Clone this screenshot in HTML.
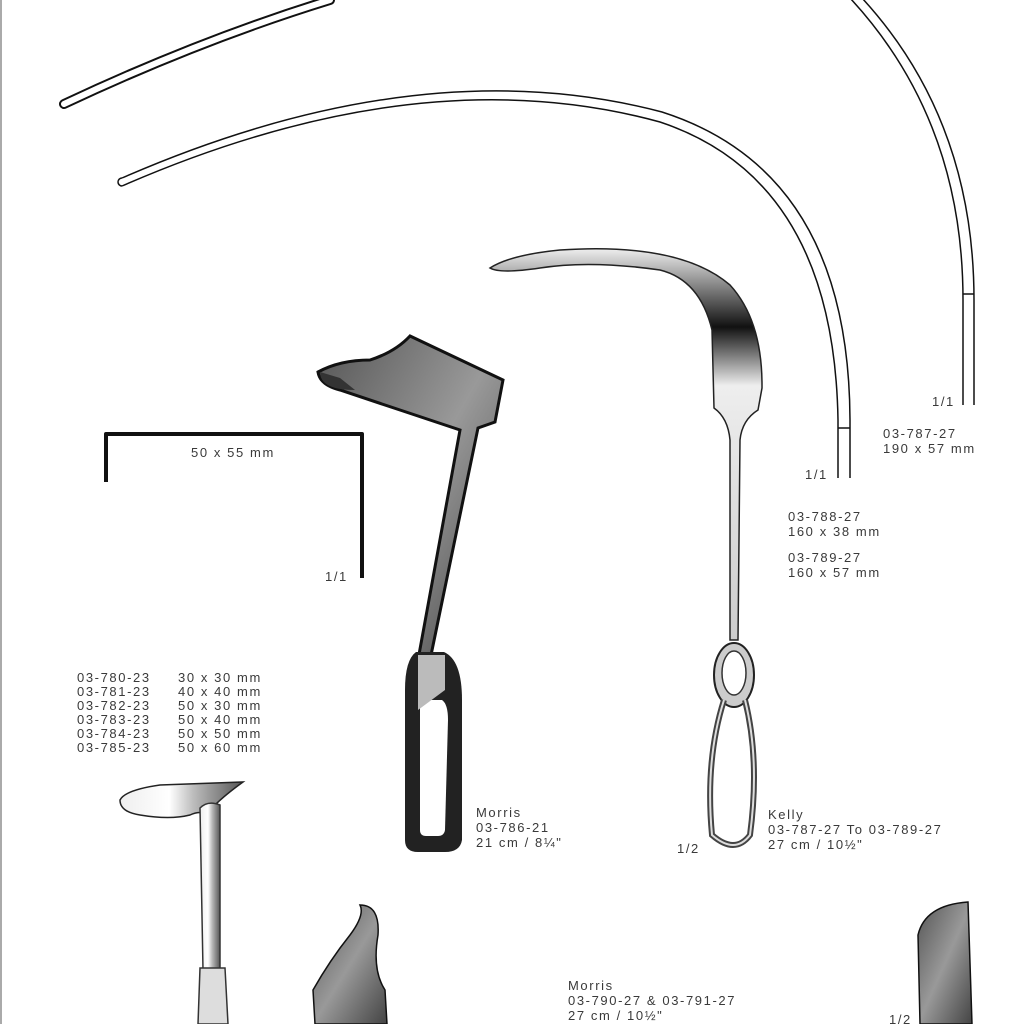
<!DOCTYPE html>
<html><head><meta charset="utf-8"><style>
html,body{margin:0;padding:0;background:#fff}
svg{display:block}
text{font-family:"Liberation Sans",sans-serif;font-size:13px;fill:#3a3a3a;letter-spacing:1.6px}
</style></head><body>
<svg width="1024" height="1024" viewBox="0 0 1024 1024">
<defs>
<linearGradient id="g1" x1="0" y1="0" x2="1" y2="1"><stop offset="0" stop-color="#555"/><stop offset=".5" stop-color="#999"/><stop offset="1" stop-color="#444"/></linearGradient>
<linearGradient id="g2" x1="0" y1="0" x2="1" y2="0"><stop offset="0" stop-color="#eee"/><stop offset=".4" stop-color="#fff"/><stop offset=".6" stop-color="#bbb"/><stop offset="1" stop-color="#555"/></linearGradient>
<linearGradient id="g3" x1="0" y1="0" x2="0" y2="1"><stop offset="0" stop-color="#eee"/><stop offset=".2" stop-color="#111"/><stop offset=".35" stop-color="#eee"/><stop offset="1" stop-color="#ccc"/></linearGradient>
</defs>
<rect x="0" y="0" width="1024" height="1024" fill="#fff"/>
<line x1="1" y1="0" x2="1" y2="1024" stroke="#555" stroke-width="1"/>
<path d="M64 104 Q200 40 330 0" fill="none" stroke="#111" stroke-width="10" stroke-linecap="round"/>
<path d="M64 104 Q200 40 330 0" fill="none" stroke="#fff" stroke-width="6" stroke-linecap="round"/>
<path d="M850 -2 Q963 120 963 300 L963 405" fill="none" stroke="#111" stroke-width="1.5"/>
<path d="M862 -2 Q974 120 974 300 L974 405" fill="none" stroke="#111" stroke-width="1.5"/>
<line x1="963" y1="294" x2="974" y2="294" stroke="#111" stroke-width="1.5"/>
<path d="M122 186 Q420 56 660 122 Q834 180 838 420 L838 478" fill="none" stroke="#111" stroke-width="1.5"/>
<path d="M122 178 Q420 48 662 112 Q849 172 850 420 L850 478" fill="none" stroke="#111" stroke-width="1.5"/>
<path d="M122 178 A4 4 0 0 0 122 186" fill="none" stroke="#111" stroke-width="1.5"/>
<line x1="838" y1="428" x2="850" y2="428" stroke="#111" stroke-width="1.5"/>
<path d="M106 482 L106 434 L362 434 L362 578" fill="none" stroke="#111" stroke-width="4" stroke-linejoin="round"/>
<text x="191" y="457">50 x 55 mm</text>
<text x="325" y="581">1/1</text>
<path d="M318 372 Q340 360 370 360 Q395 352 410 336 L503 380 L495 422 L478 428 L430 660 L418 660 L460 430 Q430 420 400 410 L340 390 Q320 385 318 372 Z" fill="url(#g1)" stroke="#111" stroke-width="3"/>
<path d="M320 372 Q320 390 355 390 L340 378 Z" fill="#333"/>
<path d="M416 652 L444 652 Q462 660 462 700 L462 840 Q460 852 445 852 L418 852 Q405 852 405 840 L405 690 Q405 660 416 652 Z" fill="#222"/>
<path d="M420 700 L442 700 Q448 704 448 720 L445 830 Q444 836 438 836 L426 836 Q420 836 420 830 Z" fill="#fff"/>
<path d="M418 655 L445 655 L445 690 L418 710 Z" fill="#bbb"/>
<text x="476" y="817">Morris</text>
<text x="476" y="832">03-786-21</text>
<text x="476" y="847">21 cm / 8¼"</text>
<path d="M490 268 Q510 255 560 250 Q680 242 730 285 Q762 320 762 385 L762 388 L758 410 Q742 420 740 440 L738 640 L730 640 L730 440 Q728 418 714 408 L712 330 Q700 280 660 270 Q590 260 540 268 Q500 274 490 268 Z" fill="url(#g3)" stroke="#222" stroke-width="1.5"/>
<ellipse cx="734" cy="675" rx="20" ry="32" fill="#ccc" stroke="#222" stroke-width="2"/>
<ellipse cx="734" cy="673" rx="12" ry="22" fill="#fff" stroke="#333" stroke-width="1.5"/>
<path d="M724 700 Q705 760 712 835 Q735 855 750 835 Q760 760 745 700" fill="none" stroke="#444" stroke-width="6"/>
<path d="M724 700 Q705 760 712 835 Q735 855 750 835 Q760 760 745 700" fill="none" stroke="#ddd" stroke-width="2"/>
<text x="677" y="853">1/2</text>
<text x="768" y="819">Kelly</text>
<text x="768" y="834">03-787-27 To 03-789-27</text>
<text x="768" y="849">27 cm / 10½"</text>
<text x="805" y="479">1/1</text>
<text x="932" y="406">1/1</text>
<text x="883" y="438">03-787-27</text>
<text x="883" y="453">190 x 57 mm</text>
<text x="788" y="521">03-788-27</text>
<text x="788" y="536">160 x 38 mm</text>
<text x="788" y="562">03-789-27</text>
<text x="788" y="577">160 x 57 mm</text>
<g>
<text x="77" y="682">03-780-23</text><text x="178" y="682">30 x 30 mm</text>
<text x="77" y="696">03-781-23</text><text x="178" y="696">40 x 40 mm</text>
<text x="77" y="710">03-782-23</text><text x="178" y="710">50 x 30 mm</text>
<text x="77" y="724">03-783-23</text><text x="178" y="724">50 x 40 mm</text>
<text x="77" y="738">03-784-23</text><text x="178" y="738">50 x 50 mm</text>
<text x="77" y="752">03-785-23</text><text x="178" y="752">50 x 60 mm</text>
</g>
<path d="M120 800 Q125 790 160 785 L243 782 Q225 795 215 805 L212 815 Q200 810 190 815 Q170 820 140 815 Q120 812 120 800 Z" fill="url(#g2)" stroke="#222" stroke-width="1.5"/>
<path d="M200 808 Q208 800 220 805 L220 970 L203 970 Z" fill="url(#g2)" stroke="#333" stroke-width="1.5"/>
<path d="M200 968 L225 968 L228 1024 L198 1024 Z" fill="#ddd" stroke="#333" stroke-width="1.5"/>
<path d="M315 1024 L313 990 Q330 960 350 935 Q365 915 360 905 Q380 905 378 935 Q372 970 385 990 L387 1024 Z" fill="url(#g1)" stroke="#111" stroke-width="1.5"/>
<text x="568" y="990">Morris</text>
<text x="568" y="1005">03-790-27 &amp; 03-791-27</text>
<text x="568" y="1020">27 cm / 10½"</text>
<text x="889" y="1024">1/2</text>
<path d="M920 1024 L918 935 Q925 905 968 902 L972 1024 Z" fill="url(#g1)" stroke="#111" stroke-width="1.5"/>
</svg>
</body></html>
